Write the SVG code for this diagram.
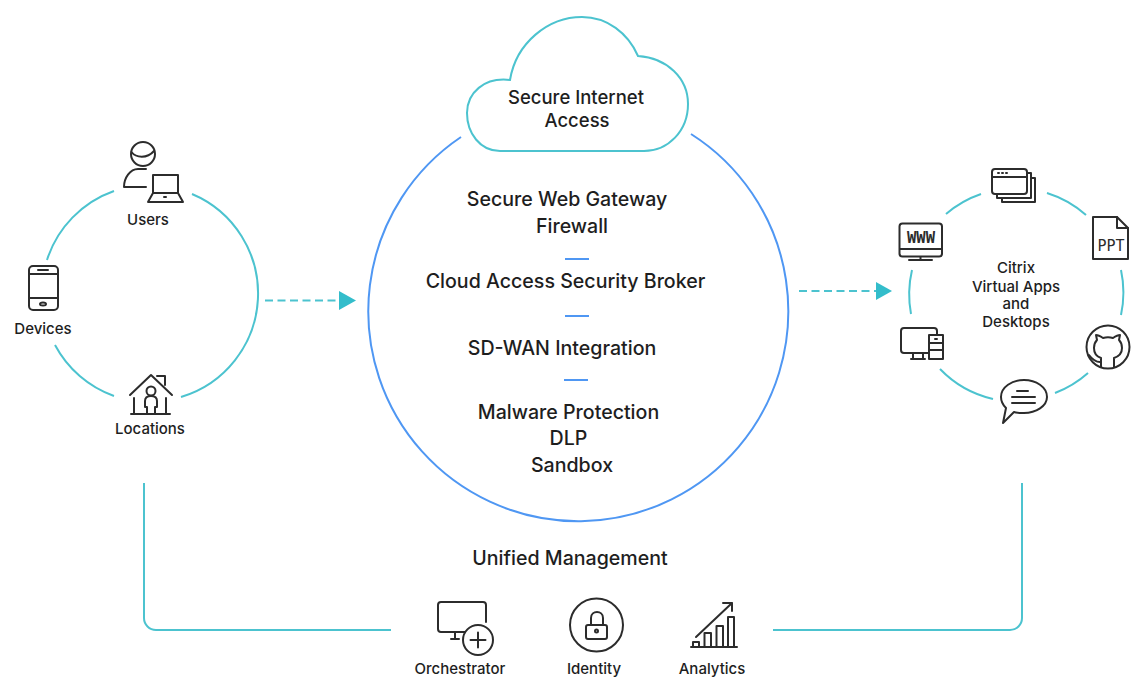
<svg xmlns="http://www.w3.org/2000/svg" width="1146" height="694" viewBox="0 0 1146 694">
<style>
text{font-family:Inter,"Noto Sans","Liberation Sans",sans-serif;text-anchor:middle;fill:#1e1e1e;font-weight:500}
.c{font-size:18.5px}
.b{font-size:19.600px}
.s{font-size:15px}
.m{font-size:15px}
.t{fill:none;stroke:#4cc3cf;stroke-width:2}
.bl{fill:none;stroke:#4f97f3;stroke-width:2}
.i{fill:none;stroke:#2c2c2c;stroke-width:2;stroke-linecap:round;stroke-linejoin:round}
.a{fill:#33bdcb;stroke:none}
</style>
<rect width="1146" height="694" fill="#fff"/>
<g id="connectors">
<path class="t" d="M114 191A108 108 0 0 0 47 260"/>
<path class="t" d="M192 194A108 108 0 0 1 181 397"/>
<path class="t" d="M55 345A108 108 0 0 0 114 396"/>
<path class="bl" d="M691 134A210 210 0 1 1 461 137"/>
<path class="bl" d="M565 259H589M565 316H589M564 380H588"/>
<path class="t" d="M946 214A107 107 0 0 1 981 194"/>
<path class="t" d="M1047 193A107 107 0 0 1 1086 215"/>
<path class="t" d="M1121 270A107 107 0 0 1 1121 315"/>
<path class="t" d="M1088 373A107 107 0 0 1 1055 393"/>
<path class="t" d="M993 399A107 107 0 0 1 940 369"/>
<path class="t" d="M911 314A107 107 0 0 1 912 270"/>
<path class="t" stroke-dasharray="8 4.500" d="M265 300.500H340"/>
<path class="a" d="M339 291L356 300.500L339 310Z"/>
<path class="t" stroke-dasharray="8 4.500" d="M799 291H876"/>
<path class="a" d="M876 282L892 291L876 300Z"/>
<path class="t" d="M144 483V618A12 12 0 0 0 156 630H391"/>
<path class="t" d="M773 630H1010A12 12 0 0 0 1022 618V483"/>
</g>
<g id="cloud">
<path class="t" d="M510 80C516 43 548 17 582 17C607 17 628 33 638 56C667 58 688 78 688 104C688 131 668 151 644 151H500C480 151 467 133 467 113C467 93 484 77 510 80Z"/>
<text class="c" x="576" y="104">Secure Internet</text>
<text class="c" x="577" y="127">Access</text>
</g>
<g id="services">
<text class="b" x="567" y="206">Secure Web Gateway</text>
<text class="b" x="572" y="233">Firewall</text>
<text class="b" x="565.500" y="288">Cloud Access Security Broker</text>
<text class="b" x="562" y="355">SD-WAN Integration</text>
<text class="b" x="568.500" y="419">Malware Protection</text>
<text class="b" x="568.500" y="445">DLP</text>
<text class="b" x="572" y="472">Sandbox</text>
</g>
<g id="users">
<circle class="i" cx="143" cy="154" r="12"/>
<path class="i" d="M131.500 152C136 158 147 159 154 151"/>
<path class="i" d="M146 169H138C130 169 124 178 124 187H146"/>
<path class="i" d="M153 193V175H178V193M153 193L148 202H183L178 193Z"/>
<path class="i" d="M164 197H166"/>
<text class="s" x="148" y="225">Users</text>
</g>
<g id="devices">
<rect class="i" x="29" y="266" width="29" height="44" rx="4"/>
<path class="i" d="M29 274H58M29 298H58M38 270H48"/>
<ellipse class="i" cx="43" cy="304" rx="3" ry="1.500" stroke-width="1.500"/>
<text class="s" x="43" y="334">Devices</text>
</g>
<g id="locations">
<path class="i" d="M130 395L151 375L172 395"/>
<path class="i" d="M157 376H165V385"/>
<path class="i" d="M134 398V414M166 398V414M131 414H170"/>
<circle class="i" cx="151" cy="391" r="4.500"/>
<path class="i" d="M147 414V407H145V401C145 397 148 396 151 396C154 396 157 397 157 401V407H155V414"/>
<text class="s" x="150" y="434">Locations</text>
</g>
<g id="citrix">
<text class="m" x="1016" y="273">Citrix</text>
<text class="m" x="1016" y="292">Virtual Apps</text>
<text class="m" x="1016" y="309">and</text>
<text class="m" x="1016" y="327">Desktops</text>
</g>
<g id="windows">
<path class="i" d="M1031 178H1035V202H1002V198"/>
<path class="i" d="M1027 173H1031V198H997V194"/>
<rect class="i" x="992" y="169" width="35" height="25" rx="3"/>
<path class="i" d="M992 177H1027M998 173H999M1002 173H1003M1006 173H1007"/>
</g>
<g id="ppt">
<path class="i" d="M1093 217H1117L1128 228V259H1093Z"/>
<path class="i" d="M1117 217V228H1128"/>
<text x="1111" y="251" font-size="15" style="font-family:'DejaVu Sans Mono',monospace;font-weight:400;fill:#2c2c2c">PPT</text>
</g>
<g id="github">
<circle class="i" cx="1108" cy="347" r="21.500"/>
<path class="i" d="M1101 367V358C1095 356 1094 352 1094 348C1094 344 1095 342 1097 340L1096 335C1098 335 1100 336 1103 338C1106 337 1110 337 1113 338C1116 336 1118 335 1120 335L1119 340C1121 342 1122 344 1122 348C1122 352 1120 356 1114 358V367"/>
<path class="i" d="M1089 355C1092 359 1096 362 1100 362"/>
</g>
<g id="chat">
<path class="i" d="M1024 380C1036 380 1047 387 1047 397C1047 406 1036 413 1024 413C1020 413 1017 413 1014 412L1003 423L1006 408C1003 405 1001 401 1001 397C1001 387 1012 380 1024 380Z"/>
<path class="i" d="M1017 391H1028M1012 397H1035M1012 403H1035"/>
</g>
<g id="desktop">
<path class="i" d="M937 334V331C937 329 936 328 934 328H904C902 328 901 329 901 331V350C901 352 902 353 904 353H929"/>
<path class="i" d="M913 353V359M923 353V359M911 359H925"/>
<rect class="i" x="929" y="335" width="14" height="24"/>
<path class="i" d="M929 343H943M929 350H943M935 339H937"/>
</g>
<g id="www">
<rect class="i" x="899.500" y="223.500" width="42.500" height="33" rx="3"/>
<path class="i" d="M900 249H942M920.500 257V260M909 260H932"/>
<text x="921" y="243" font-size="15.500" style="font-family:'DejaVu Sans Mono',monospace;font-weight:700;fill:#2c2c2c">WWW</text>
</g>
<text x="570" y="565" class="b">Unified Management</text>
<g id="orchestrator">
<path class="i" d="M486 622V605C486 603 485 602 483 602H441C439 602 438 603 438 605V629C438 631 439 632 441 632H465"/>
<path class="i" d="M455 632V639M451 639H459"/>
<circle class="i" cx="478" cy="640" r="15"/>
<path class="i" d="M478 632.500V647.500M470.500 640H485.500"/>
<text class="s" x="460" y="674">Orchestrator</text>
</g>
<g id="identity">
<circle class="i" cx="596.500" cy="625" r="26.500"/>
<rect class="i" x="586" y="625" width="21" height="14" rx="2"/>
<path class="i" d="M591 625V618C591 610 603 610 603 618V625"/>
<circle class="i" cx="596.500" cy="631" r="1.500"/>
<text class="s" x="594" y="674">Identity</text>
</g>
<g id="analytics">
<path class="i" d="M691 647H737"/>
<path class="i" d="M693 647V642H699V647M704.500 647V633H711V647M716.500 647V626H723V647M728 647V617H734V647"/>
<path class="i" d="M696 637L732 603M723 603H732V611"/>
<text class="s" x="712" y="674">Analytics</text>
</g>
</svg>
